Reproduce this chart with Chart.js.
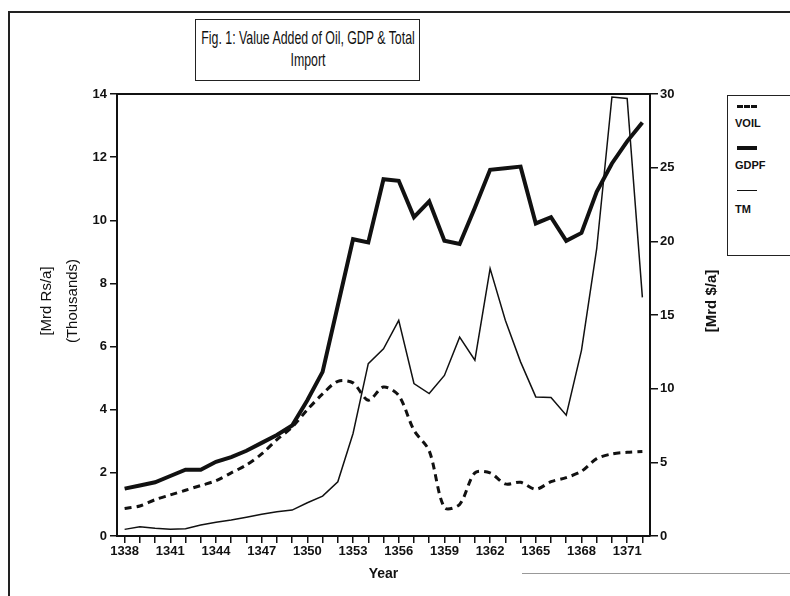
<!DOCTYPE html>
<html>
<head>
<meta charset="utf-8">
<script src="https://cdn.jsdelivr.net/npm/chart.js@4.4.1/dist/chart.umd.min.js"></script>
<style>
  body { margin: 0; background: #fff; }
  #wrap { position: relative; width: 790px; height: 596px; overflow: hidden; font-family: "Liberation Sans", Arial, sans-serif; color: #111; }
  #frame { position: absolute; left: 8px; top: 11px; width: 800px; height: 620px; border-left: 2px solid #222; border-top: 2px solid #222; }
  #title { position: absolute; left: 195px; top: 19px; width: 225px; height: 62px; border: 1.5px solid #222; box-sizing: border-box; }
  #title div { position: absolute; left: 50%; width: 360px; margin-left: -180px; text-align: center; font-size: 19px; line-height: 21px; transform: scaleX(0.65); }
  #legend { position: absolute; left: 727px; top: 95px; width: 80px; height: 161px; border: 1.5px solid #222; box-sizing: border-box; }
  #legend .sym { position: absolute; left: 9px; width: 20px; height: 0; }
  #legend .txt { position: absolute; left: 7px; font-weight: bold; font-size: 11px; }
  #botline { position: absolute; left: 522px; top: 573px; width: 300px; border-top: 1.5px solid #999; }
  canvas { position: absolute; left: 0; top: 0; }
</style>
</head>
<body>
<div id="wrap">
  <div id="frame"></div>
  <div id="title">
    <div style="top:7px">Fig. 1: Value Added of Oil, GDP &amp; Total</div>
    <div style="top:29px">Import</div>
  </div>
  <div id="legend">
    <div class="sym" style="top:9px;border-top:3px dashed #111"></div>
    <div class="txt" style="top:21px">VOIL</div>
    <div class="sym" style="top:50px;border-top:4px solid #111"></div>
    <div class="txt" style="top:63px">GDPF</div>
    <div class="sym" style="top:94px;border-top:1.5px solid #111"></div>
    <div class="txt" style="top:107px">TM</div>
  </div>
  <div id="botline"></div>
  <canvas id="chart" width="790" height="596"></canvas>
</div>
<script>
const years = ['1338','1339','1340','1341','1342','1343','1344','1345','1346','1347',
  '1348','1349','1350','1351','1352','1353','1354','1355','1356','1357',
  '1358','1359','1360','1361','1362','1363','1364','1365','1366','1367',
  '1368','1369','1370','1371','1372'];
const yearLabels = ['1338','1341','1344','1347','1350','1353','1356','1359','1362','1365','1368','1371'];

// value added of oil, Mrd Rs/a (thousands)
const voil = [0.87, 0.95, 1.15, 1.3, 1.45, 1.6, 1.75, 2.0, 2.25, 2.6,
  3.05, 3.45, 4.0, 4.5, 4.9, 4.85, 4.3, 4.72, 4.45, 3.35,
  2.7, 0.9, 1.0, 2.0, 2.0, 1.65, 1.7, 1.48, 1.72, 1.85,
  2.05, 2.45, 2.6, 2.65, 2.68];
// GDP, Mrd Rs/a (thousands)
const gdpf = [1.5, 1.6, 1.7, 1.9, 2.1, 2.1, 2.35, 2.5, 2.7, 2.95,
  3.2, 3.5, 4.3, 5.2, 7.3, 9.4, 9.3, 11.3, 11.25, 10.1,
  10.6, 9.35, 9.25, 10.4, 11.6, 11.65, 11.7, 9.9, 10.1, 9.35,
  9.6, 10.9, 11.8, 12.5, 13.1];
// total import, Mrd $/a
const tm = [0.45, 0.63, 0.52, 0.45, 0.5, 0.75, 0.93, 1.08, 1.27, 1.47,
  1.65, 1.76, 2.26, 2.71, 3.68, 6.96, 11.7, 12.7, 14.64, 10.35,
  9.67, 10.9, 13.5, 11.93, 18.15, 14.64, 11.82, 9.44, 9.4, 8.2,
  12.6, 19.5, 29.8, 29.7, 16.2];

const ink = '#111';
const tickFont = { family: '"Liberation Sans", Arial, sans-serif', size: 13, weight: 'bold' };

const framePlugin = {
  id: 'frame',
  afterDraw(chart) {
    const { ctx, chartArea } = chart;
    ctx.save();
    ctx.strokeStyle = ink;
    ctx.lineWidth = 2;
    ctx.beginPath();
    ctx.moveTo(chartArea.left, chartArea.top);
    ctx.lineTo(chartArea.right + 1, chartArea.top);
    ctx.stroke();
    ctx.fillStyle = ink;
    ctx.textAlign = 'center';
    ctx.textBaseline = 'middle';
    [['[Mrd Rs/a]', 47, ''], ['(Thousands)', 73, ''], ['[Mrd $/a]', 712, 'bold ']].forEach(([t, x, w]) => {
      ctx.save();
      ctx.translate(x, 301);
      ctx.rotate(-Math.PI / 2);
      ctx.font = w + '15px "Liberation Sans", Arial, sans-serif';
      ctx.fillText(t, 0, 0);
      ctx.restore();
    });
    ctx.restore();
  }
};

new Chart(document.getElementById('chart'), {
  type: 'line',
  data: {
    labels: years,
    datasets: [
      { label: 'VOIL', data: voil, yAxisID: 'y', borderColor: ink, borderWidth: 3,
        borderDash: [7, 5], tension: 0.3, pointRadius: 0 },
      { label: 'GDPF', data: gdpf, yAxisID: 'y', borderColor: ink, borderWidth: 4,
        tension: 0, pointRadius: 0 },
      { label: 'TM', data: tm, yAxisID: 'y1', borderColor: ink, borderWidth: 1.5,
        tension: 0, pointRadius: 0 }
    ]
  },
  options: {
    responsive: false,
    animation: false,
    layout: { padding: { top: 94, left: 30, right: 80, bottom: 10 } },
    plugins: { legend: { display: false }, tooltip: { enabled: false } },
    scales: {
      x: {
        offset: true,
        grid: { drawOnChartArea: false, tickLength: 7, color: ink, lineWidth: 1.5 },
        border: { color: ink, width: 2 },
        ticks: {
          autoSkip: false, maxRotation: 0, padding: 1, color: ink, font: tickFont,
          callback: function (v) { const l = this.getLabelForValue(v); return yearLabels.includes(l) ? l : ''; }
        },
        title: { display: true, text: 'Year', color: ink, padding: { top: 0, bottom: 3 },
          font: { family: '"Liberation Sans", Arial, sans-serif', size: 14, weight: 'bold' } },
        afterFit: s => { s.height = 50; }
      },
      y: {
        min: 0, max: 14,
        grid: { drawOnChartArea: false, tickLength: 7, color: ink, lineWidth: 1.5 },
        border: { color: ink, width: 2 },
        ticks: { stepSize: 2, padding: 3, color: ink, font: tickFont },
        afterFit: s => { s.width = 87; }
      },
      y1: {
        position: 'right', min: 0, max: 30,
        grid: { drawOnChartArea: false, tickLength: 8, color: ink, lineWidth: 1.5 },
        border: { color: ink, width: 2 },
        ticks: { stepSize: 5, padding: 2, color: ink, font: tickFont },
        afterFit: s => { s.width = 60; }
      }
    }
  },
  plugins: [framePlugin]
});
</script>
</body>
</html>
